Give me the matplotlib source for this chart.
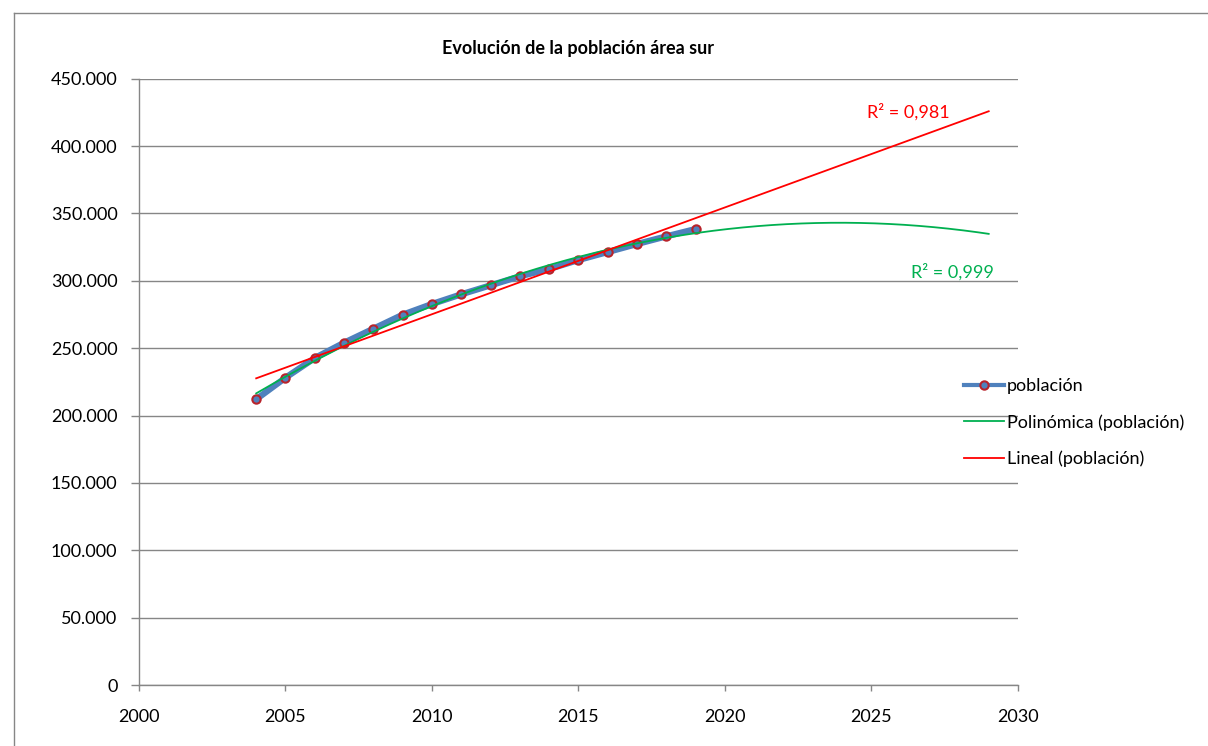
import numpy as np
import matplotlib
matplotlib.use("Agg")
import matplotlib.pyplot as plt
from matplotlib.lines import Line2D
from matplotlib.ticker import FuncFormatter, MultipleLocator

years = [2004, 2005, 2006, 2007, 2008, 2009, 2010, 2011,
         2012, 2013, 2014, 2015, 2016, 2017, 2018, 2019]
poblacion = [212050, 228080, 242700, 254060, 264450, 274840, 282780, 289980,
             296660, 303330, 308760, 315440, 321370, 327310, 333020, 338440]
forecast_end = 2029
r2_lineal = "R² = 0,981"
r2_poli = "R² = 0,999"
title = "Evolución de la población área sur"
legend_labels = ["población", "Polinómica (población)", "Lineal (población)"]

plt.rcParams['font.family'] = ['Lato', 'DejaVu Sans']
GRAY = '#868686'

W, H = 1208, 746
fig = plt.figure(figsize=(W / 100, H / 100), dpi=100)
ax = fig.add_axes([139 / W, 1 - 685 / H, (1018 - 139) / W, (685 - 78.7) / H])

# trend lines (fitted like excel does)
x = np.array(years, dtype=float)
y = np.array(poblacion, dtype=float)
xs = np.linspace(years[0], forecast_end, 400)
lin = np.polyfit(x, y, 1)
pol = np.polyfit(x, y, 2)

ax.plot(x, y, color='#4F81BD', lw=4.5, marker='o', ms=6,
        mfc='#4F81BD', mec='#B8232B', mew=1.5, zorder=3, solid_capstyle='round')
ax.plot(xs, np.polyval(pol, xs), color='#00B050', lw=1.3, zorder=4)
ax.plot(xs, np.polyval(lin, xs), color='#FF0000', lw=1.3, zorder=4)

ax.set_xlim(2000, 2030)
ax.set_ylim(0, 450000)
ax.xaxis.set_major_locator(MultipleLocator(5))
ax.yaxis.set_major_locator(MultipleLocator(50000))
ax.yaxis.set_major_formatter(FuncFormatter(lambda v, p: f"{int(v):,}".replace(",", ".")))
ax.grid(axis='y', color=GRAY, lw=1)
ax.set_axisbelow(True)
for s in ['top', 'right']:
    ax.spines[s].set_visible(False)
for s in ['left', 'bottom']:
    ax.spines[s].set_color(GRAY)
    ax.spines[s].set_linewidth(1)
ax.tick_params(axis='both', colors=GRAY, labelcolor='black', labelsize=13, width=1)
ax.tick_params(axis='y', length=5.5, pad=10)
ax.tick_params(axis='x', length=4, pad=13)

ax.set_title(title, fontsize=13, fontweight='bold', pad=18)

ax.text(2026.25, 425300, r2_lineal, color='#FF0000', fontsize=13, ha='center', va='center')
ax.text(2027.75, 306500, r2_poli, color='#00B050', fontsize=13, ha='center', va='center')

handles = [
    Line2D([], [], color='#4F81BD', lw=3, marker='o', ms=6, mfc='#4F81BD',
           mec='#B8232B', mew=1.5),
    Line2D([], [], color='#00B050', lw=1.3),
    Line2D([], [], color='#FF0000', lw=1.3),
]
fig.legend(handles, legend_labels, loc='upper left', bbox_to_anchor=(957 / W, 1 - 371 / H),
           frameon=False, fontsize=13, handlelength=2.2, handletextpad=0.15,
           labelspacing=1.1, borderaxespad=0)

# chart area border (left and top visible)
fig.add_artist(Line2D([14 / W, 14 / W], [0, 1 - 13 / H], color=GRAY, lw=1))
fig.add_artist(Line2D([14 / W, 1], [1 - 13 / H, 1 - 13 / H], color=GRAY, lw=1))

fig.savefig('out.png', dpi=100)
